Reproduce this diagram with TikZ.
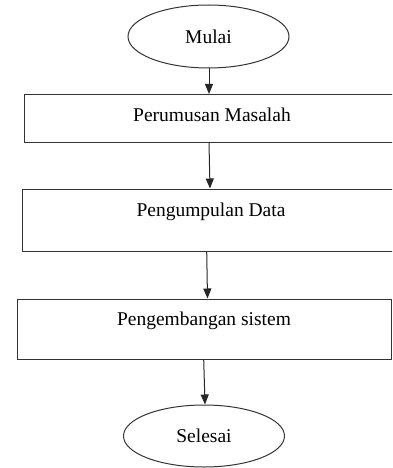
\documentclass[tikz,border=0pt]{standalone}
\usepackage{fontspec}
\setmainfont{Liberation Serif}
\usetikzlibrary{shapes.geometric,arrows.meta}
\tikzset{
  lin/.style={draw=black!80, line width=1pt},
  term/.style={lin, ellipse, inner sep=0pt, font=\fontsize{19.5}{23}\selectfont},
  procbox/.style={lin, rectangle, inner xsep=0pt, inner ysep=0pt, font=\fontsize{19.5}{23}\selectfont},
  arr/.style={draw=black!85, line width=1pt, -{Triangle[length=10pt,width=8pt]}}
}
\begin{document}
\begin{tikzpicture}[x=1pt,y=-1pt]
\useasboundingbox (0,0) rectangle (392,468);
\clip (0,0) rectangle (392,468);
\node[term, minimum width=161pt, minimum height=63pt] (mulai) at (208.5,36.5) {Mulai};
\node[procbox, minimum width=376pt, text height=27pt, text depth=21.2pt] (box1) at (212,118.6) {Perumusan Masalah};
\node[procbox, minimum width=378pt, text height=27pt, text depth=35pt] (box2) at (211,220) {Pengumpulan Data};
\node[procbox, minimum width=374pt, text height=26pt, text depth=34pt] (box3) at (204,329) {Pengembangan sistem};
\node[term, minimum width=161pt, minimum height=62pt] (selesai) at (204,436) {Selesai};
\draw[arr] ([xshift=0.5pt]mulai.south) -- ([xshift=-3pt]box1.north);
\draw[arr] ([xshift=-3pt]box1.south) -- ([xshift=-1pt]box2.north);
\draw[arr] ([xshift=-4.3pt]box2.south) -- ([xshift=3.5pt]box3.north);
\draw[arr] ([xshift=-0.3pt]box3.south) -- ([xshift=1pt]selesai.north);
\end{tikzpicture}
\end{document}
